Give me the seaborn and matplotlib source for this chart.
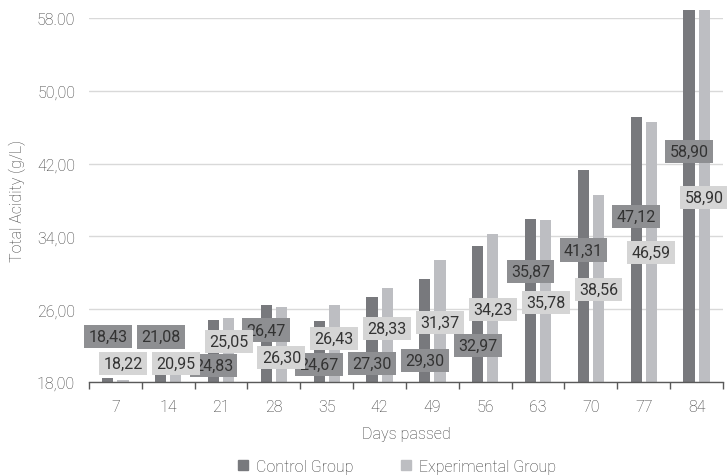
import numpy as np
import pandas as pd
import matplotlib.pyplot as plt
import seaborn as sns
from matplotlib.ticker import FixedLocator

# data
DAYS = [7, 14, 21, 28, 35, 42, 49, 56, 63, 70, 77, 84]
CONTROL = [18.43, 21.08, 24.83, 26.47, 24.67, 27.30, 29.30, 32.97, 35.87, 41.31, 47.12, 58.90]
EXPERIMENTAL = [18.22, 20.95, 25.05, 26.30, 26.43, 28.33, 31.37, 34.23, 35.78, 38.56, 46.59, 58.90]
GROUPS = ["Control Group", "Experimental Group"]
Y_TICKS = [18, 26, 34, 42, 50, 58]
Y_TICK_LABELS = ["18,00", "26,00", "34,00", "42,00", "50,00", "58.00"]

# where the (hand placed) data labels sit, in data units
CONTROL_LABEL_Y = [23.0, 22.97, 19.8, 23.7, 19.92, 20.03, 20.36, 22.0, 30.14, 32.5, 36.19, 43.33]
EXPERIMENTAL_LABEL_Y = [20.03, 20.03, 22.45, 20.7, 22.78, 23.88, 24.54, 25.97, 26.74, 28.16, 32.23, 38.27]

BAR_COLORS = ["#78797d", "#bdbec2"]
BOX_COLORS = ["#8e8f92", "#d5d5d5"]
TEXT_COLOR = "#3a3a3a"
FS = 11.5

df = pd.DataFrame({
    "day": DAYS * 2,
    "value": CONTROL + EXPERIMENTAL,
    "group": [GROUPS[0]] * len(DAYS) + [GROUPS[1]] * len(DAYS),
})

sns.set_theme(style="white")
plt.rcParams["font.family"] = ["Roboto", "DejaVu Sans"]

fig = plt.figure(figsize=(7.27, 4.77), dpi=100)
ax = fig.add_axes([0.1224, 0.197, 0.8721, 0.763])

sns.barplot(data=df, x="day", y="value", hue="group", palette=BAR_COLORS,
            width=0.57, gap=0.26, ax=ax, legend=False, saturation=1)

# bars of day 84 run past the top of the axis, so clip only at the bottom
clip_rect = plt.Rectangle((0, 0), 1, 1.2, transform=ax.transAxes)
for p in ax.patches:
    p.set_clip_path(clip_rect)
    p.set_linewidth(0)

ax.set_ylim(18, 58)
ax.set_xlim(-0.5, len(DAYS) - 0.5)
ax.set_yticks(Y_TICKS)
ax.set_yticklabels(Y_TICK_LABELS)
ax.yaxis.grid(True, color="#d9d9d9", linewidth=1)
ax.set_axisbelow(True)

for side in ["top", "right", "left"]:
    ax.spines[side].set_visible(False)
ax.spines["bottom"].set_color("#595959")
ax.spines["bottom"].set_linewidth(1)
ax.spines["bottom"].set_zorder(5)

ax.tick_params(axis="y", length=0, labelsize=FS, labelcolor=TEXT_COLOR, pad=10)
ax.tick_params(axis="x", which="major", length=0, labelsize=FS, labelcolor=TEXT_COLOR, pad=12)
ax.xaxis.set_minor_locator(FixedLocator(np.arange(-0.5, len(DAYS), 1.0)))
ax.tick_params(axis="x", which="minor", bottom=True, length=5, width=1, color="#595959")
for lab in ax.get_xticklabels() + ax.get_yticklabels():
    lab.set_fontweight("light")

ax.set_xlabel("Days passed", fontsize=FS, color=TEXT_COLOR, labelpad=9, fontweight="light")
ax.set_ylabel("Total Acidity (g/L)", fontsize=FS, color=TEXT_COLOR, labelpad=8, fontweight="light")

# data labels, centred on each bar
for cont, values, ys, box in zip(ax.containers, [CONTROL, EXPERIMENTAL],
                                 [CONTROL_LABEL_Y, EXPERIMENTAL_LABEL_Y], BOX_COLORS):
    for bar, v, y in zip(cont, values, ys):
        cx = bar.get_x() + bar.get_width() / 2
        ax.text(cx, y, f"{v:.2f}".replace(".", ","), ha="center", va="center",
                fontsize=FS, color="#333333", clip_on=False,
                bbox=dict(boxstyle="square,pad=0.27", facecolor=box, edgecolor="none"))

handles = [plt.Rectangle((0, 0), 1, 1, color=c) for c in BAR_COLORS]
fig.legend(handles, GROUPS, loc="lower center", bbox_to_anchor=(0.546, -0.025), ncol=2,
           frameon=False, handlelength=0.6, handleheight=0.6,
           columnspacing=3.0, handletextpad=0.5, labelcolor=TEXT_COLOR,
           prop={"size": FS, "weight": "light"})

fig.savefig("out.png", dpi=100)
